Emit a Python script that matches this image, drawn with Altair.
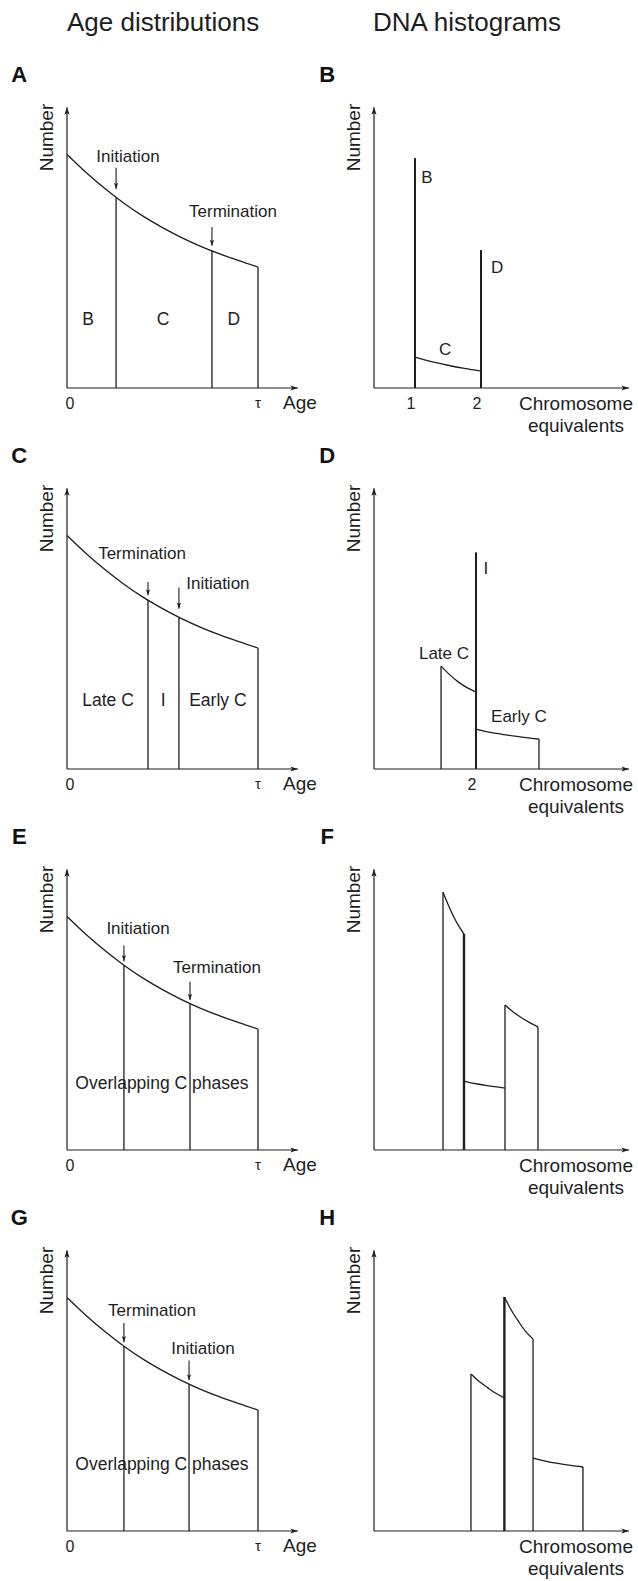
import altair as alt
import pandas as pd

FONT = "Liberation Sans"
INK = "#1e1e1e"

# ---------------- layout (pixels) ----------------
CELL_W = 319
ROW_H = 381
HEAD_H = 50
AGE_PX = 191      # px per tau
DNA_PX = 66       # px per chromosome equivalent
NUM_PX = 121      # px per Number unit
AXIS_LEFT_AGE = 67
AXIS_LEFT_DNA = 55
AXIS_BELOW = 43

# ---------------- data ----------------
# shared age-distribution curve (age in units of tau)
curve_age = [0.0, 0.1, 0.2, 0.3, 0.4, 0.5, 0.6, 0.7, 0.8, 0.9, 1.0]
curve_num = [1.93, 1.781, 1.646, 1.525, 1.418, 1.325, 1.243, 1.171, 1.108, 1.052, 1.0]
y_axis_top = 2.32
age_axis_end = 1.209
dna_axis_len = 3.864

# Panel A
A_bound_age = [0.257, 0.759, 1.0]
A_bound_num = [1.577, 1.134, 1.0]
A_event = ["Initiation", "Termination"]
A_event_age = [0.257, 0.759]
A_arrow_from = [1.82, 1.33]
A_arrow_to = [1.645, 1.175]
A_label_age = [0.319, 0.869]
A_label_num = [1.91, 1.455]
A_phase = ["B", "C", "D"]
A_phase_age = [0.11, 0.503, 0.874]
A_phase_num = [0.56, 0.56, 0.56]

# Panel C
C_bound_age = [0.424, 0.586, 1.0]
C_bound_num = [1.396, 1.254, 1.0]
C_event = ["Termination", "Initiation"]
C_event_age = [0.424, 0.586]
C_arrow_from = [1.545, 1.50]
C_arrow_to = [1.435, 1.325]
C_label_age = [0.393, 0.79]
C_label_num = [1.777, 1.53]
C_phase = ["Late C", "I", "Early C"]
C_phase_age = [0.215, 0.503, 0.79]
C_phase_num = [0.56, 0.56, 0.56]

# Panel E
E_bound_age = [0.298, 0.644, 1.0]
E_bound_num = [1.527, 1.211, 1.0]
E_event = ["Initiation", "Termination"]
E_event_age = [0.298, 0.644]
E_arrow_from = [1.69, 1.39]
E_arrow_to = [1.56, 1.24]
E_label_age = [0.372, 0.785]
E_label_num = [1.826, 1.504]
E_phase = ["Overlapping C phases"]
E_phase_age = [0.497]
E_phase_num = [0.545]

# Panel G
G_bound_age = [0.298, 0.639, 1.0]
G_bound_num = [1.527, 1.215, 1.0]
G_event = ["Termination", "Initiation"]
G_event_age = [0.298, 0.639]
G_arrow_from = [1.72, 1.41]
G_arrow_to = [1.56, 1.245]
G_label_age = [0.445, 0.712]
G_label_num = [1.818, 1.504]
G_phase = ["Overlapping C phases"]
G_phase_age = [0.497]
G_phase_num = [0.545]

# Panel B (DNA histogram)
B_axis_c = 0.379
B_spike_c = [1.0, 2.0]
B_spike_top = [1.90, 1.14]
B_spike_w = [2.0, 2.0]
B_curve_seg = ["C"] * 5
B_curve_c = [1.0, 1.25, 1.5, 1.75, 2.0]
B_curve_n = [0.256, 0.218, 0.188, 0.162, 0.14]
B_label = ["B", "D", "C"]
B_label_c = [1.18, 2.243, 1.455]
B_label_n = [1.735, 0.99, 0.314]
B_ticks = [1, 2]

# Panel D
D_axis_c = 0.4545
D_spike_c = [1.47, 2.0, 2.954]
D_spike_top = [0.85, 1.79, 0.248]
D_spike_w = [1.3, 2.0, 1.3]
D_curve_seg = ["late"] * 5 + ["early"] * 5
D_curve_c = [1.47, 1.6, 1.73, 1.87, 2.0, 2.0, 2.24, 2.48, 2.72, 2.954]
D_curve_n = [0.85, 0.78, 0.72, 0.67, 0.636, 0.33, 0.30, 0.28, 0.262, 0.248]
D_label = ["I", "Late C", "Early C"]
D_label_c = [2.15, 1.515, 2.65]
D_label_n = [1.65, 0.95, 0.43]
D_ticks = [2]

# Panel F
F_axis_c = 0.4545
F_spike_c = [1.50, 1.818, 2.439, 2.939]
F_spike_top = [2.13, 1.785, 1.198, 1.017]
F_spike_w = [1.3, 2.4, 1.3, 1.3]
F_curve_seg = ["a"] * 5 + ["b"] * 5 + ["c"] * 5
F_curve_c = [1.50, 1.58, 1.66, 1.74, 1.818,
             1.818, 1.97, 2.13, 2.28, 2.439,
             2.439, 2.564, 2.689, 2.814, 2.939]
F_curve_n = [2.13, 2.025, 1.93, 1.85, 1.785,
             0.57, 0.551, 0.536, 0.523, 0.512,
             1.198, 1.14, 1.093, 1.053, 1.017]

# Panel H
H_axis_c = 0.4545
H_spike_c = [1.924, 2.43, 2.864, 3.621]
H_spike_top = [1.298, 1.934, 1.587, 0.529]
H_spike_w = [1.3, 2.4, 1.3, 1.3]
H_curve_seg = ["a"] * 5 + ["b"] * 5 + ["c"] * 5
H_curve_c = [1.924, 2.05, 2.18, 2.30, 2.43,
             2.43, 2.54, 2.65, 2.75, 2.864,
             2.864, 3.05, 3.24, 3.43, 3.621]
H_curve_n = [1.298, 1.235, 1.183, 1.138, 1.10,
             1.934, 1.82, 1.727, 1.65, 1.587,
             0.603, 0.578, 0.558, 0.542, 0.529]

# ---------------- arrowhead shapes ----------------
UP = "M0,0L0.55,1.6L0,1.2L-0.55,1.6Z"
RIGHT = "M0,0L-1.6,-0.55L-1.2,0L-1.6,0.55Z"
DOWN = "M0,0L0.55,-1.6L0,-1.2L-0.55,-1.6Z"


def build(xdom, ydom, height, vr, hr, curves, arrows, texts, bold, ticks):
    sx = alt.Scale(domain=xdom, nice=False, zero=False)
    sy = alt.Scale(domain=ydom, nice=False, zero=False)
    X = alt.X("x:Q", scale=sx, axis=None)
    Y = alt.Y("y:Q", scale=sy, axis=None)
    layers = []
    layers.append(alt.Chart(pd.DataFrame(hr)).mark_rule(color=INK, strokeCap="butt").encode(
        x=X, x2="x2:Q", y=Y, strokeWidth=alt.StrokeWidth("w:Q", scale=None)))
    layers.append(alt.Chart(pd.DataFrame(vr)).mark_rule(color=INK, strokeCap="butt").encode(
        x=X, y=Y, y2="y2:Q", strokeWidth=alt.StrokeWidth("w:Q", scale=None)))
    layers.append(alt.Chart(pd.DataFrame(curves)).mark_line(
        color=INK, strokeWidth=1.3, interpolate="monotone").encode(
        x=X, y=Y, detail="seg:N", order="o:Q"))
    layers.append(alt.Chart(pd.DataFrame(arrows)).mark_point(
        filled=True, opacity=1, color=INK, strokeWidth=0).encode(
        x=X, y=Y, shape=alt.Shape("shape:N", scale=None),
        size=alt.Size("s:Q", scale=None)))
    layers.append(alt.Chart(pd.DataFrame(texts)).mark_text(
        font=FONT, color=INK, baseline="middle", align="center").encode(
        x=X, y=Y, text="t:N", size=alt.Size("s:Q", scale=None),
        angle=alt.Angle("a:Q", scale=None)))
    layers.append(alt.Chart(pd.DataFrame(bold)).mark_text(
        font=FONT, color="#111111", fontWeight="bold", baseline="middle", align="center").encode(
        x=X, y=Y, text="t:N", size=alt.Size("s:Q", scale=None)))
    if ticks["x"]:
        layers.append(alt.Chart(pd.DataFrame(ticks)).mark_text(
            font=FONT, color=INK, baseline="middle", align="center", dx=-4, fontSize=16).encode(
            x=X, y=Y, text="t:N"))
    return alt.layer(*layers).properties(width=CELL_W, height=height)


def ydomain(first):
    top = (ROW_H + (HEAD_H if first else 0) - AXIS_BELOW) / NUM_PX
    return [-AXIS_BELOW / NUM_PX, top], ROW_H + (HEAD_H if first else 0)


def age_panel(letter, b_age, b_num, ev, ev_age, a_from, a_to, l_age, l_num,
              ph, ph_age, ph_num, title=None):
    xdom = [-AXIS_LEFT_AGE / AGE_PX, (CELL_W - AXIS_LEFT_AGE) / AGE_PX]
    ydom, h = ydomain(title is not None)
    vr = {"x": [0.0] + b_age + ev_age,
          "y": [0.0] + [0.0] * len(b_age) + a_to,
          "y2": [y_axis_top] + b_num + a_from,
          "w": [1.2] + [1.3] * len(b_age) + [1.1] * len(ev_age)}
    hr = {"x": [0.0], "x2": [age_axis_end], "y": [0.0], "w": [1.2]}
    curves = {"x": curve_age, "y": curve_num, "seg": ["n"] * len(curve_age),
              "o": list(range(len(curve_age)))}
    arrows = {"x": [0.0, age_axis_end] + ev_age,
              "y": [y_axis_top, 0.0] + a_to,
              "shape": [UP, RIGHT] + [DOWN] * len(ev_age),
              "s": [90, 90] + [60] * len(ev_age)}
    tx, ty, tt, ts, ta = [], [], [], [], []
    def add(x, y, t, s, a=0):
        tx.append(x); ty.append(y); tt.append(t); ts.append(s); ta.append(a)
    for t, x, y in zip(ev, l_age, l_num):
        add(x, y, t, 17)
    for t, x, y in zip(ph, ph_age, ph_num):
        add(x, y, t, 17.5)
    add(-0.105, 2.07, "Number", 19, 270)
    add(0.016, -0.13, "0", 16)
    add(1.0, -0.125, "τ", 15)
    add(1.22, -0.125, "Age", 19)
    if title:
        add(0.503, 3.017, title, 26)
    texts = {"x": tx, "y": ty, "t": tt, "s": ts, "a": ta}
    bold = {"x": [-0.25], "y": [2.59], "t": [letter], "s": [22]}
    ticks = {"x": [], "y": [], "t": []}
    return build(xdom, ydom, h, vr, hr, curves, arrows, texts, bold, ticks)


def dna_panel(letter, c0, sp_c, sp_top, sp_w, seg, cc, cn, lab, lab_c, lab_n,
              tick_vals, title=None):
    xdom = [c0 - AXIS_LEFT_DNA / DNA_PX, c0 + (CELL_W - AXIS_LEFT_DNA) / DNA_PX]
    ydom, h = ydomain(title is not None)
    xend = c0 + dna_axis_len
    vr = {"x": [c0] + sp_c, "y": [0.0] * (1 + len(sp_c)),
          "y2": [y_axis_top] + sp_top, "w": [1.2] + sp_w}
    hr = {"x": [c0], "x2": [xend], "y": [0.0], "w": [1.2]}
    curves = {"x": cc, "y": cn, "seg": seg, "o": list(range(len(cc)))}
    arrows = {"x": [c0, xend], "y": [y_axis_top, 0.0], "shape": [UP, RIGHT], "s": [90, 90]}
    tx, ty, tt, ts, ta = [], [], [], [], []
    def add(x, y, t, s, a=0):
        tx.append(x); ty.append(y); tt.append(t); ts.append(s); ta.append(a)
    for t, x, y in zip(lab, lab_c, lab_n):
        add(x, y, t, 17)
    add(c0 - 0.30, 2.07, "Number", 19, 270)
    add(c0 + 3.06, -0.13, "Chromosome", 19)
    add(c0 + 3.06, -0.31, "equivalents", 19)
    if title:
        add(c0 + 1.409, 3.017, title, 26)
    texts = {"x": tx, "y": ty, "t": tt, "s": ts, "a": ta}
    bold = {"x": [c0 - 0.71], "y": [2.59], "t": [letter], "s": [22]}
    ticks = {"x": [float(v) for v in tick_vals], "y": [-0.13] * len(tick_vals),
             "t": [str(v) for v in tick_vals]}
    return build(xdom, ydom, h, vr, hr, curves, arrows, texts, bold, ticks)


pA = age_panel("A", A_bound_age, A_bound_num, A_event, A_event_age, A_arrow_from, A_arrow_to,
               A_label_age, A_label_num, A_phase, A_phase_age, A_phase_num, title="Age distributions")
pC = age_panel("C", C_bound_age, C_bound_num, C_event, C_event_age, C_arrow_from, C_arrow_to,
               C_label_age, C_label_num, C_phase, C_phase_age, C_phase_num)
pE = age_panel("E", E_bound_age, E_bound_num, E_event, E_event_age, E_arrow_from, E_arrow_to,
               E_label_age, E_label_num, E_phase, E_phase_age, E_phase_num)
pG = age_panel("G", G_bound_age, G_bound_num, G_event, G_event_age, G_arrow_from, G_arrow_to,
               G_label_age, G_label_num, G_phase, G_phase_age, G_phase_num)

pB = dna_panel("B", B_axis_c, B_spike_c, B_spike_top, B_spike_w, B_curve_seg, B_curve_c, B_curve_n,
               B_label, B_label_c, B_label_n, B_ticks, title="DNA histograms")
pD = dna_panel("D", D_axis_c, D_spike_c, D_spike_top, D_spike_w, D_curve_seg, D_curve_c, D_curve_n,
               D_label, D_label_c, D_label_n, D_ticks)
pF = dna_panel("F", F_axis_c, F_spike_c, F_spike_top, F_spike_w, F_curve_seg, F_curve_c, F_curve_n,
               [], [], [], [])
pH = dna_panel("H", H_axis_c, H_spike_c, H_spike_top, H_spike_w, H_curve_seg, H_curve_c, H_curve_n,
               [], [], [], [])

chart = alt.concat(pA, pB, pC, pD, pE, pF, pG, pH, columns=2, spacing=0, bounds="flush").properties(
    padding=0, background="white"
).configure_view(strokeWidth=0)

chart.save("out.html", embed_options={"renderer": "svg", "actions": False})
